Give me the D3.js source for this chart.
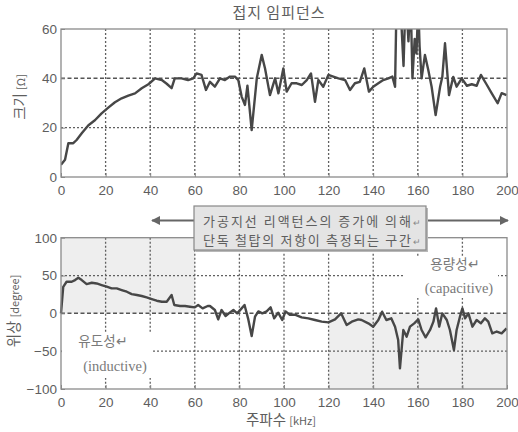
<!DOCTYPE html>
<html>
<head>
<meta charset="utf-8">
<script src="https://cdn.jsdelivr.net/npm/d3@7"></script>
<style>
body{margin:0;background:#fff;}
</style>
</head>
<body>
<svg id="chart" width="518" height="432"></svg>
<script>
// ---------- データ ----------
const xTicks=[0,20,40,60,80,100,120,140,160,180,200];
const magTicks=[0,20,40,60];
const phaseTicks=[-100,-50,0,50,100];

const magFreq=[0,1.8,3.3,5.5,7,9.3,12.3,15.2,18.2,21.2,24.2,27.2,30.2,33.2,36.2,39.2,42.2,45.2,47.4,49.6,
51,54,57,59.3,60.8,63,65,66.8,69,71.3,73.5,75.8,78,79.5,81,82.5,83.6,85.5,87.8,90,
91.5,93.7,96,97.5,99.7,101.2,103.4,105.7,108,110.2,112.1,113.9,115.4,117.6,119.9,122.1,124.4,127.4,129.6,131.8,
134,136,138.1,140,142.3,144.5,146.8,148.6,149.8,150.6,152.2,153.6,154.6,155.8,156.8,157.6,158.6,159.4,160.2,160.8,
161.7,163.2,164.7,166.2,168,170,171,172.2,174,175.9,177.4,179.7,182,184.2,186.4,188.3,190.8,193.1,195.8,197.6,199.8];
const magValue=[5,7,13.7,13.7,15,17.7,21,23,25.8,28.1,30.3,31.9,33,33.9,36,37.6,40,39.3,37.8,36,
40,40,39.3,40,42,41.4,35.3,38.6,36.6,40,39.3,40.7,40.7,39.3,32.6,29.2,37,19,40,49.5,
44,33.2,40,33.9,44,34.6,38,38,37.3,39.3,42,30.5,39.3,36.6,41.4,40.7,40,39.3,35.3,38,
38.6,44,34.6,36.6,38,39.3,40,40.7,36.6,78,70,45,75,55,72,40,56,50,70,53,
40,49.5,43.4,36.6,25.1,36.6,40.6,54.2,33.2,40.6,36.6,40,37,37.6,37,41.4,37.6,34,29.9,34,33.2];

const phaseFreq=[0,1,2.5,4.8,6.3,7.8,9.3,11.5,13.8,16,18.2,20.5,22.7,25,27.2,29.5,31.7,34,36.2,38.4,
40.7,42.9,45.2,47.4,49.6,50.8,53.4,55.6,57.8,60,61.5,63.5,65.8,66.8,69,70.5,72,73.8,75.8,77.3,
79,81,82.3,84,85.5,87,88.5,90.3,92.2,94,95.6,97.4,99.2,100.7,102.6,104.9,107.9,110.9,113.9,116.9,
119.9,122.9,125.6,128.1,130.4,133.3,134.8,137.8,140,142.3,144,145.9,148.1,149.8,151.2,152,153.5,155,156.5,158.4,
160.2,161.7,163.5,165.5,167,168.2,169.6,171,173,174.4,176.2,177.4,178.9,180,181.2,182.7,184.5,186.4,188.3,190.1,
191.6,193.4,195.4,197.6,199.8];
const phaseValue=[0,35,41.8,41.8,44,47,44,38.7,40.4,39.5,37.4,35.3,33,33,30.8,28.6,25.5,24.2,22.9,21.1,
18.9,16.7,15.4,15.4,24.2,11,9.7,9.7,8.8,7.9,11,6.6,9.7,9.7,4.4,-8,4.4,-3.5,1.3,4.4,
0,6.6,11,-8,-30,-4.4,2.6,0,2.6,7.9,-6.6,0.9,-8.8,2.6,-1.8,-1.8,-5.3,-6.6,-8.8,-11,
-11.9,-8,0,-15.4,-11,-8,-8.8,-13.2,-17.6,-8.8,2.2,-8.8,-6.6,-17.6,-35.3,-72.7,-22,-30.8,-17.6,-13.2,
-8,-22,-31.7,-22,-11,6.6,-17.6,0,-8.8,-22,-48.5,-22,-4.4,6.6,-6.6,0,-17.6,-8.8,-13.2,-6.6,
-11,-26.4,-24,-26.4,-19.8];

// 網掛け領域 [x0,x1,y0,y1]
const inductiveZone=[0,60,0,100];
const capacitiveZone=[120,200,-100,0];

const titleText="접지 임피던스";
const noteLines=["가공지선 리액턴스의 증가에 의해","단독 철탑의 저항이 측정되는 구간"];

const KR="Noto Sans CJK KR, sans-serif";
const SANS="Liberation Sans, Arial, sans-serif";
const SERIF="Liberation Serif, Times New Roman, serif";
const TXT="#5e5e5e";

// ---------- 軸 ----------
const svg=d3.select("#chart");
const LEFT=61,RIGHT=507;
const xScale=d3.scaleLinear().domain([0,200]).range([LEFT,RIGHT]);
const yMag=d3.scaleLinear().domain([0,60]).range([177,29]);
const yPhase=d3.scaleLinear().domain([-100,100]).range([389,237.7]);

const defs=svg.append("defs");
defs.append("clipPath").attr("id","clipMag")
    .append("rect").attr("x",LEFT).attr("y",29).attr("width",RIGHT-LEFT).attr("height",148);
defs.append("marker")
    .attr("id","arrow").attr("viewBox","0 0 10 10")
    .attr("refX",9).attr("refY",5)
    .attr("markerWidth",4.5).attr("markerHeight",4.5)
    .attr("orient","auto")
    .append("path").attr("d","M0 0 L10 5 L0 10Z").attr("fill","#666");

function addLine(g,x1,y1,x2,y2,dash,color,width){
    g.append("line")
        .attr("x1",x1).attr("y1",y1).attr("x2",x2).attr("y2",y2)
        .style("stroke",color).style("stroke-width",width)
        .style("stroke-dasharray",dash);
}

function panel(yScale,yTicks,gridVals,refVal){
    const g=svg.append("g");
    const yBottom=yScale(yScale.domain()[0]);
    const yTop=yScale(yScale.domain()[1]);
    // グリッド
    xTicks.slice(1,-1).forEach(t=>{
        addLine(g,xScale(t),yTop,xScale(t),yBottom,"2,2","#606060",1.3);
    });
    gridVals.forEach(v=>{
        addLine(g,LEFT,yScale(v),RIGHT,yScale(v),"2,2","#606060",1.3);
    });
    addLine(g,LEFT,yScale(refVal),RIGHT,yScale(refVal),"4,2.5","#555",1.5);
    const ax=g.append("g").attr("transform",`translate(0,${yBottom})`)
        .call(d3.axisBottom(xScale).tickValues(xTicks).tickSize(-4).tickPadding(8));
    const ay=g.append("g").attr("transform",`translate(${LEFT},0)`)
        .call(d3.axisLeft(yScale).tickValues(yTicks).tickSize(-4).tickPadding(4));
    [ax,ay].forEach(a=>{
        a.select(".domain").remove();
        a.selectAll(".tick line").attr("stroke","#888");
        a.selectAll("text").attr("font-size",13.5).attr("fill",TXT).attr("font-family",SANS);
    });
    return g;
}

// ---------- 上段：大きさ ----------
const magPanel=panel(yMag,magTicks,[20],40);
magPanel.append("path")
    .attr("clip-path","url(#clipMag)")
    .attr("fill","none").attr("stroke","#474747").attr("stroke-width",2.4).attr("stroke-linejoin","round")
    .attr("d",d3.line().x(d=>xScale(d[0])).y(d=>yMag(d[1]))(d3.zip(magFreq,magValue)));
magPanel.append("rect")
    .attr("x",LEFT).attr("y",29).attr("width",RIGHT-LEFT).attr("height",148)
    .attr("fill","none").attr("stroke","#8a8a8a").attr("stroke-width",1.3);

// ---------- 下段：位相 ----------
const zones=svg.append("g");
[inductiveZone,capacitiveZone].forEach(z=>{
    zones.append("rect")
        .attr("x",xScale(z[0])).attr("y",yPhase(z[3]))
        .attr("width",xScale(z[1])-xScale(z[0])).attr("height",yPhase(z[2])-yPhase(z[3]))
        .attr("fill","#eeeeee");
});
const phasePanel=panel(yPhase,phaseTicks,[50,-50],0);

// ラベル背景（グリッドを隠す）
phasePanel.append("rect").attr("x",62).attr("y",332).attr("width",90).attr("height",46).attr("fill","#fff");
phasePanel.append("rect").attr("x",405).attr("y",256).attr("width",93).attr("height",42).attr("fill","#fff");

phasePanel.append("path")
    .attr("fill","none").attr("stroke","#474747").attr("stroke-width",2.4).attr("stroke-linejoin","round")
    .attr("d",d3.line().x(d=>xScale(d[0])).y(d=>yPhase(d[1]))(d3.zip(phaseFreq,phaseValue)));
phasePanel.append("rect")
    .attr("x",LEFT).attr("y",237.7).attr("width",RIGHT-LEFT).attr("height",389-237.7)
    .attr("fill","none").attr("stroke","#8a8a8a").attr("stroke-width",1.3);

function label(xp,yp,str,font,size){
    return phasePanel.append("text").attr("x",xp).attr("y",yp)
        .attr("text-anchor","middle").attr("font-size",size)
        .attr("font-family",font).attr("fill","#7a7a7a").text(str);
}
label(103,346,"유도성↵",KR,13.5);
label(115,371,"(inductive)",SERIF,14.5);
label(455,269,"용량성↵",KR,13.5);
label(459,293,"(capacitive)",SERIF,14.5);

// ---------- 注釈ボックス ----------
const note=svg.append("g");
note.append("line").attr("x1",194).attr("x2",152).attr("y1",220.5).attr("y2",220.5)
    .attr("stroke","#666").attr("stroke-width",2).attr("marker-end","url(#arrow)");
note.append("line").attr("x1",426).attr("x2",508).attr("y1",220.5).attr("y2",220.5)
    .attr("stroke","#666").attr("stroke-width",2).attr("marker-end","url(#arrow)");
note.append("rect").attr("x",196).attr("y",208).attr("width",232).attr("height",44).attr("fill","#b8b8b8");
note.append("rect").attr("x",194).attr("y",206).attr("width",232).attr("height",44)
    .attr("fill","#e4e4e4").attr("stroke","#888").attr("stroke-width",1.2);
note.selectAll(".nl").data(noteLines).join("text")
    .attr("x",307).attr("y",(d,i)=>226+i*18.5)
    .attr("text-anchor","middle").attr("font-size",13).attr("fill",TXT).attr("font-family",KR)
    .attr("textLength",208).attr("lengthAdjust","spacing")
    .text(d=>d);
note.selectAll(".pm").data(noteLines).join("text")
    .attr("x",413).attr("y",(d,i)=>226+i*18.5)
    .attr("font-size",9).attr("fill","#888").attr("font-family",SANS).text("↵");

// ---------- タイトル・軸ラベル ----------
svg.append("text").attr("x",279).attr("y",18)
    .attr("text-anchor","middle").attr("font-size",15).attr("letter-spacing",1)
    .attr("font-family",KR).attr("fill",TXT).text(titleText);

function axisLabel(tr,main,unit){
    const t=svg.append("text").attr("transform",tr)
        .attr("text-anchor","middle").attr("font-size",14.5)
        .attr("font-family",KR).attr("fill",TXT);
    t.append("tspan").text(main+" ");
    t.append("tspan").attr("font-size",11).text(unit);
}
axisLabel("translate(25,97) rotate(-90)","크기","[Ω]");
axisLabel("translate(19,311) rotate(-90)","위상","[degree]");
axisLabel("translate(281,425)","주파수","[kHz]");
</script>
</body>
</html>
